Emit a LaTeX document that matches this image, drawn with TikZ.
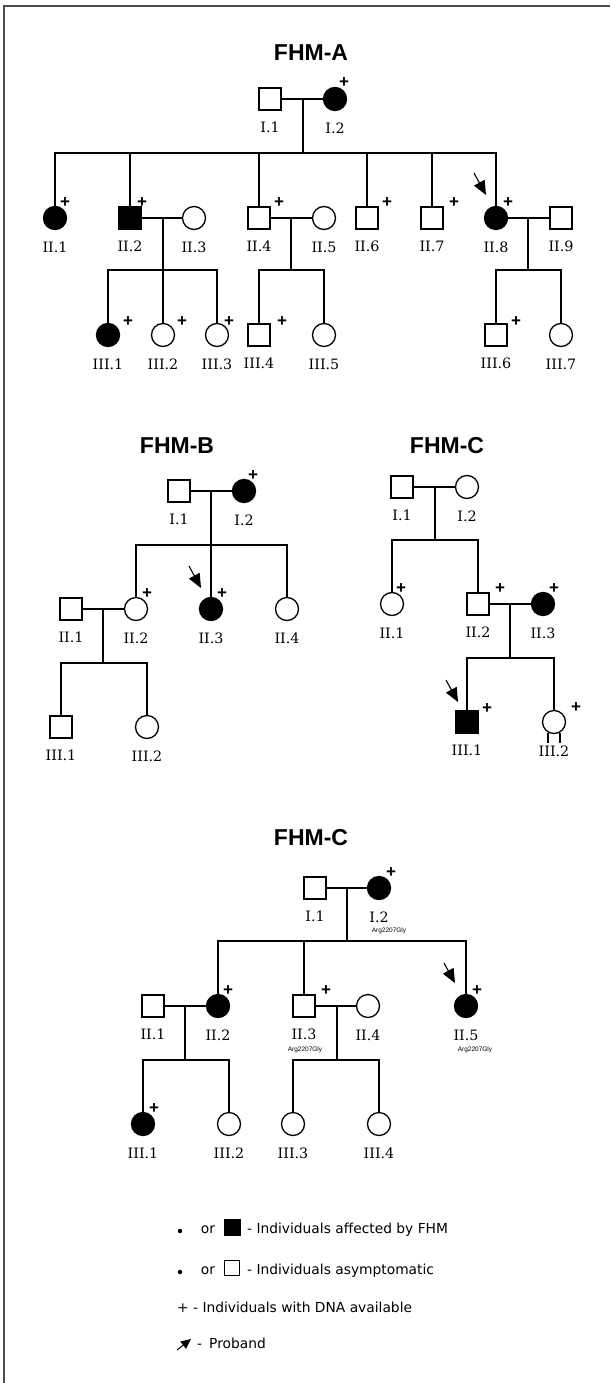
\documentclass[tikz,border=0pt]{standalone}
\usepackage{fontspec}
\setmainfont{DejaVu Serif}
\newfontfamily\arialfont{Liberation Sans}
\newfontfamily\verdfont{DejaVu Sans}
\newcommand{\labfont}{\fontsize{14.3}{16}\selectfont}
\newcommand{\titlefont}{\arialfont\fontsize{23}{26}\selectfont\bfseries}
\newcommand{\plusfont}{\arialfont\fontsize{17}{17}\selectfont\bfseries}
\newcommand{\mutfont}{\arialfont\fontsize{6.5}{7}\selectfont}
\newcommand{\legfont}{\verdfont\fontsize{13.8}{15}\selectfont}
\usetikzlibrary{arrows.meta}

\begin{document}
\begin{tikzpicture}[x=1pt,y=-1pt,
    male/.style={draw,rectangle,minimum size=22pt,inner sep=0pt,line width=1.3pt},
    female/.style={draw,circle,minimum size=23pt,inner sep=0pt,line width=1.3pt},
    aff/.style={fill=black},
    kin/.style={line width=1.3pt},
    dna/.style={inner sep=0pt,font=\plusfont},
    title/.style={inner sep=0pt,font=\titlefont},
    mut/.style={inner sep=0pt,font=\mutfont},
    pb/.style={line width=1.1pt,-{Triangle[length=14pt,width=12pt]}},
    leg/.style={inner sep=0pt,font=\legfont},
    label distance=11.5pt,
    every label/.style={inner sep=0pt,font=\labfont}]
\useasboundingbox (0,0) rectangle (610,1383);
\draw[line width=2pt,black!70] (4,1383) -- (4,6) -- (610,6);

% FHM-A
\node[title] (tA) at (311,53) {FHM-A};
\node[male,label=below:I.1] (a11) at (270,99) {};
\node[female,aff,label=below:I.2] (a12) at (335,99) {};
\node[dna] (pa12) at (344,83) {+};
\coordinate (mA1) at (303,99);
\coordinate (sA1) at (303,153);
\node[female,aff,label=below:II.1] (a21) at (55,218) {};
\node[male,aff,label=below:II.2] (a22) at (130,218) {};
\node[female,label=below:II.3] (a23) at (194,218) {};
\node[male,label=below:II.4] (a24) at (259,218) {};
\node[female,label=below:II.5] (a25) at (324,218) {};
\node[male,label=below:II.6] (a26) at (367,218) {};
\node[male,label=below:II.7] (a27) at (432,218) {};
\node[female,aff,label=below:II.8] (a28) at (496,218) {};
\node[male,label=below:II.9] (a29) at (561,218) {};
\node[dna] (pa21) at (65,203) {+};
\node[dna] (pa22) at (142,203) {+};
\node[dna] (pa24) at (279,203) {+};
\node[dna] (pa26) at (387,203) {+};
\node[dna] (pa27) at (454,203) {+};
\node[dna] (pa28) at (508,203) {+};
\coordinate (mA2) at (163,218);
\coordinate (sA2) at (163,270);
\coordinate (mA3) at (291,218);
\coordinate (sA3) at (291,270);
\coordinate (mA4) at (528,218);
\coordinate (sA4) at (528,270);
\node[female,aff,label=below:III.1] (a31) at (108,335) {};
\node[female,label=below:III.2] (a32) at (163,335) {};
\node[female,label=below:III.3] (a33) at (217,335) {};
\node[male,label=below:III.4] (a34) at (259,335) {};
\node[female,label=below:III.5] (a35) at (324,335) {};
\node[male,label=below:III.6] (a36) at (496,335) {};
\node[female,label=below:III.7] (a37) at (561,335) {};
\node[dna] (pa31) at (128,322) {+};
\node[dna] (pa32) at (182,322) {+};
\node[dna] (pa33) at (229,322) {+};
\node[dna] (pa34) at (282,322) {+};
\node[dna] (pa36) at (516,322) {+};
\draw[kin] (a11) -- (a12);
\draw[kin] (mA1) -- (sA1);
\draw[kin] (a21) |- (sA1) -| (a28);
\draw[kin] (a22) -- (a22 |- sA1);
\draw[kin] (a24) -- (a24 |- sA1);
\draw[kin] (a26) -- (a26 |- sA1);
\draw[kin] (a27) -- (a27 |- sA1);
\draw[kin] (a22) -- (a23);
\draw[kin] (a24) -- (a25);
\draw[kin] (a28) -- (a29);
\draw[kin] (mA2) -- (a32);
\draw[kin] (a31) |- (sA2) -| (a33);
\draw[kin] (mA3) -- (sA3);
\draw[kin] (a34) |- (sA3) -| (a35);
\draw[kin] (mA4) -- (sA4);
\draw[kin] (a36) |- (sA4) -| (a37);
\coordinate (prA) at (474,173);
\draw[pb] (prA) -- +(12,22);

% FHM-B
\node[title] (tB) at (177,446) {FHM-B};
\node[male,label=below:I.1] (b11) at (179,491) {};
\node[female,aff,label=below:I.2] (b12) at (244,491) {};
\node[dna] (pb12) at (253,476) {+};
\coordinate (mB1) at (211,491);
\coordinate (sB1) at (211,545);
\node[male,label=below:II.1] (b21) at (71,609) {};
\node[female,label=below:II.2] (b22) at (136,609) {};
\node[female,aff,label=below:II.3] (b23) at (211,609) {};
\node[female,label=below:II.4] (b24) at (287,609) {};
\node[dna] (pb22) at (147,594) {+};
\node[dna] (pb23) at (222,594) {+};
\coordinate (mB2) at (103,609);
\coordinate (sB2) at (103,663);
\node[male,label=below:III.1] (b31) at (61,727) {};
\node[female,label=below:III.2] (b32) at (147,727) {};
\draw[kin] (b11) -- (b12);
\draw[kin] (mB1) -- (b23);
\draw[kin] (b22) |- (sB1) -| (b24);
\draw[kin] (b21) -- (b22);
\draw[kin] (mB2) -- (sB2);
\draw[kin] (b31) |- (sB2) -| (b32);
\coordinate (prB) at (189,566);
\draw[pb] (prB) -- +(12,22);

% FHM-C
\node[title] (tC) at (447,446) {FHM-C};
\node[male,label=below:I.1] (c11) at (402,487) {};
\node[female,label=below:I.2] (c12) at (467,487) {};
\coordinate (mC1) at (435,487);
\coordinate (sC1) at (435,540);
\node[female,label=below:II.1] (c21) at (392,604) {};
\node[male,label=below:II.2] (c22) at (478,604) {};
\node[female,aff,label=below:II.3] (c23) at (543,604) {};
\node[dna] (pc21) at (401,589) {+};
\node[dna] (pc22) at (500,589) {+};
\node[dna] (pc23) at (554,589) {+};
\coordinate (mC2) at (510,604);
\coordinate (sC2) at (510,658);
\node[male,aff,label=below:III.1] (c31) at (467,722) {};
\node[female,label=below:III.2] (c32) at (554,722) {};
\node[dna] (pc31) at (487,709) {+};
\node[dna] (pc32) at (576,708) {+};
\draw[kin] (c11) -- (c12);
\draw[kin] (mC1) -- (sC1);
\draw[kin] (c21) |- (sC1) -| (c22);
\draw[kin] (c22) -- (c23);
\draw[kin] (mC2) -- (sC2);
\draw[kin] (c31) |- (sC2) -| (c32);
\draw[kin] (c32.-119) -- ++(0,10);
\draw[kin] (c32.-61) -- ++(0,10);
\coordinate (prC) at (446,680);
\draw[pb] (prC) -- +(12,22);

% FHM-C, second family
\node[title] (tD) at (311,838) {FHM-C};
\node[male,label=below:I.1] (d11) at (315,888) {};
\node[female,aff,label=below:I.2] (d12) at (379,888) {};
\node[dna] (pd12) at (391,873) {+};
\node[mut] (gd12) at (389,931) {Arg2207Gly};
\coordinate (mD1) at (347,888);
\coordinate (sD1) at (347,941);
\node[male,label=below:II.1] (d21) at (153,1006) {};
\node[female,aff,label=below:II.2] (d22) at (218,1006) {};
\node[male,label=below:II.3] (d23) at (304,1006) {};
\node[female,label=below:II.4] (d24) at (368,1006) {};
\node[female,aff,label=below:II.5] (d25) at (466,1006) {};
\node[dna] (pd22) at (228,991) {+};
\node[dna] (pd23) at (326,991) {+};
\node[dna] (pd25) at (477,991) {+};
\node[mut] (gd23) at (305,1050) {Arg2207Gly};
\node[mut] (gd25) at (475,1050) {Arg2207Gly};
\coordinate (mD2) at (185,1006);
\coordinate (sD2) at (185,1060);
\coordinate (mD3) at (337,1006);
\coordinate (sD3) at (337,1060);
\node[female,aff,label=below:III.1] (d31) at (143,1124) {};
\node[female,label=below:III.2] (d32) at (229,1124) {};
\node[female,label=below:III.3] (d33) at (293,1124) {};
\node[female,label=below:III.4] (d34) at (379,1124) {};
\node[dna] (pd31) at (154,1109) {+};
\draw[kin] (d11) -- (d12);
\draw[kin] (mD1) -- (sD1);
\draw[kin] (d22) |- (sD1) -| (d25);
\draw[kin] (d23) -- (d23 |- sD1);
\draw[kin] (d21) -- (d22);
\draw[kin] (d23) -- (d24);
\draw[kin] (mD2) -- (sD2);
\draw[kin] (d31) |- (sD2) -| (d32);
\draw[kin] (mD3) -- (sD3);
\draw[kin] (d33) |- (sD3) -| (d34);
\coordinate (prD) at (444,963);
\draw[pb] (prD) -- +(11,20);

% legend
\node[circle,fill=black,inner sep=0pt,minimum size=4.5pt] (ld1) at (180,1231) {};
\node[leg] (lo1) at (208,1230) {or};
\node[draw,fill=black,inner sep=0pt,minimum size=16pt] (lsq1) at (232,1227) {};
\node[leg,anchor=west] (lt1) at (247,1230) {- Individuals affected by FHM};
\node[circle,fill=black,inner sep=0pt,minimum size=4.5pt] (ld2) at (180,1272) {};
\node[leg] (lo2) at (208,1271) {or};
\node[draw,line width=0.8pt,inner sep=0pt,minimum size=15pt] (lsq2) at (232,1268) {};
\node[leg,anchor=west] (lt2) at (247,1271) {- Individuals asymptomatic};
\node[leg,anchor=west] (lt3) at (177,1307) {+ - Individuals with DNA available};
\coordinate (lpr) at (177,1350);
\draw[line width=1pt,-{Triangle[length=10pt,width=9pt]}] (lpr) -- +(14,-11);
\node[leg,anchor=west] (lt4) at (197,1343) {-\hspace{7pt}Proband};
\end{tikzpicture}
\end{document}
